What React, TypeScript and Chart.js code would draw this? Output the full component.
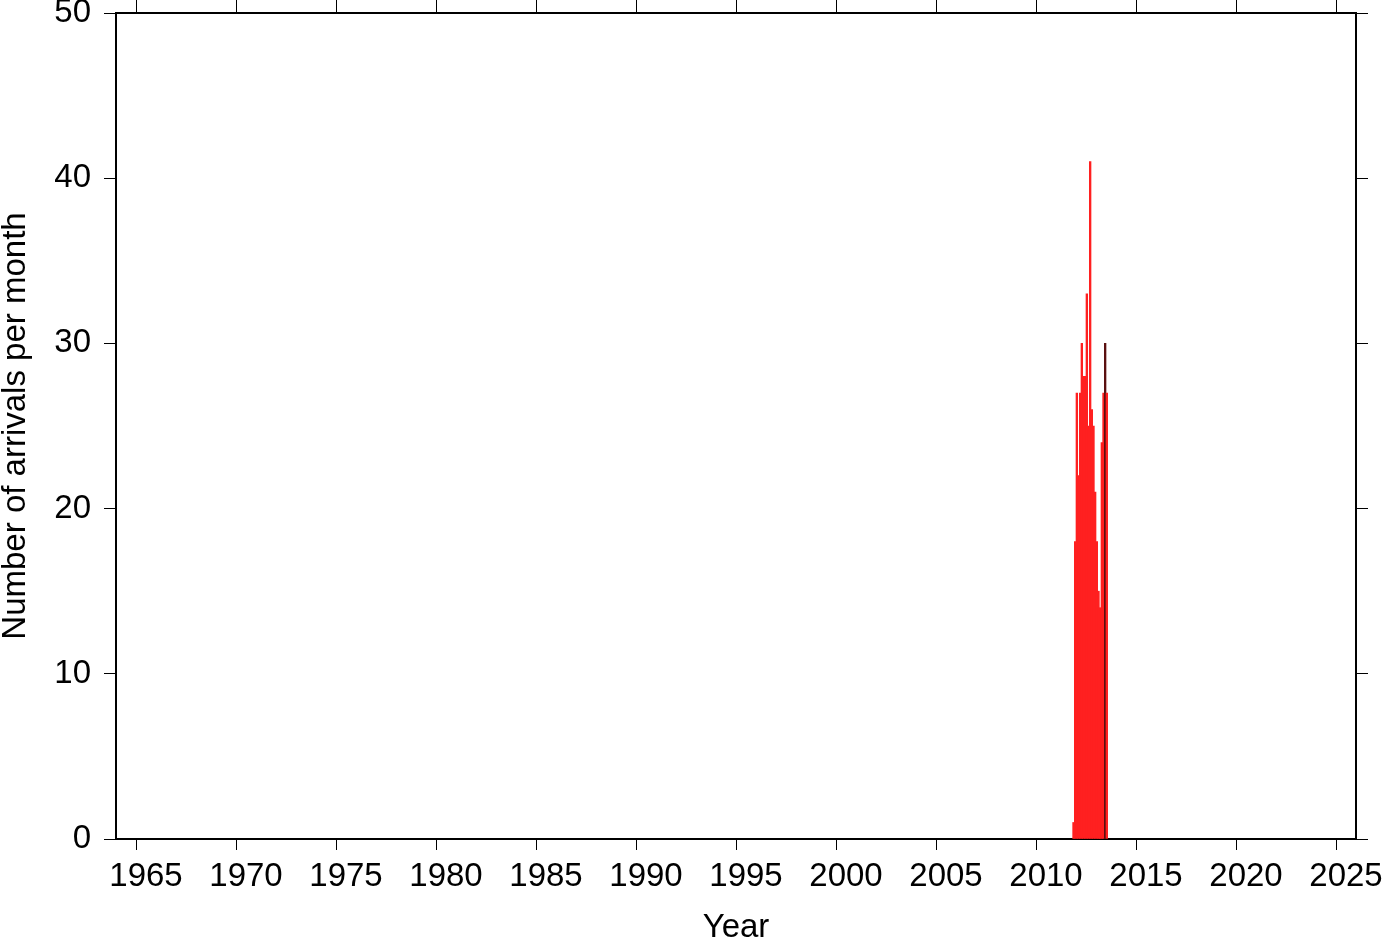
import React, { useEffect, useRef } from 'react';
import { Chart, registerables } from 'chart.js';

Chart.register(...registerables);

// Monthly arrival counts, starting November 2011
const startYear = 2011;
const startMonth = 11;
const monthlyArrivals = [1, 18, 27, 22, 27, 30, 28, 28, 33, 25, 41, 26, 25, 21, 18, 15, 14, 24, 27, 30, 27];
const yearTicks = [1965, 1970, 1975, 1980, 1985, 1990, 1995, 2000, 2005, 2010, 2015, 2020, 2025];
const countTicks = [0, 10, 20, 30, 40, 50];
const xMin = 1964;
const xMax = 2026;
const yMin = 0;
const yMax = 50;

const FONT = '"Liberation Sans", Arial, Helvetica, sans-serif';

export default function App() {
  const ref = useRef<HTMLCanvasElement | null>(null);

  useEffect(() => {
    document.body.style.margin = '0';
    const canvas = ref.current;
    if (!canvas) return;

    const points = monthlyArrivals.map((v, i) => {
      const m = startMonth - 1 + i;
      const year = startYear + Math.floor(m / 12);
      const month = (m % 12) + 1;
      return { x: year + (month - 0.5) / 12, y: v };
    });
    const colors = monthlyArrivals.map((_, i) => (i === 19 ? '#5a1010' : 'rgb(255,32,32)'));

    const font = { family: FONT, size: 33 };
    const titleFont = { family: FONT, size: 33, lineHeight: 0.84 };

    const fitH = (h: number) => (s: any) => {
      s.height = h;
      s.paddingLeft = 0;
      s.paddingRight = 0;
      s.paddingTop = 0;
      s.paddingBottom = 0;
    };
    const fitW = (w: number) => (s: any) => {
      s.width = w;
      s.paddingLeft = 0;
      s.paddingRight = 0;
      s.paddingTop = 0;
      s.paddingBottom = 0;
    };

    const chart = new Chart(canvas, {
      type: 'bar',
      data: {
        datasets: [
          {
            data: points as any,
            backgroundColor: colors,
            borderWidth: 0,
            barPercentage: 1,
            categoryPercentage: 1,
            xAxisID: 'x',
            yAxisID: 'y',
          },
        ],
      },
      options: {
        responsive: false,
        devicePixelRatio: 1,
        animation: false,
        layout: { padding: 0 },
        plugins: {
          legend: { display: false },
          tooltip: { enabled: false },
          title: { display: false },
        },
        scales: {
          x: {
            type: 'linear',
            position: 'bottom',
            min: xMin,
            max: xMax,
            offset: false,
            afterBuildTicks: (s: any) => {
              s.ticks = yearTicks.map((v) => ({ value: v }));
            },
            afterFit: fitH(103),
            ticks: {
              color: '#000',
              font,
              padding: 7,
              labelOffset: 10,
              maxRotation: 0,
              autoSkip: false,
              callback: (v: any) => String(v),
            },
            grid: {
              offset: false,
              drawOnChartArea: false,
              drawTicks: true,
              tickLength: 11,
              color: '#000',
              lineWidth: 1,
            },
            border: { display: true, color: '#000', width: 2 },
            title: {
              display: true,
              text: 'Year',
              color: '#000',
              font: titleFont,
              padding: 0,
            },
          },
          x2: {
            type: 'linear',
            position: 'top',
            min: xMin,
            max: xMax,
            offset: false,
            afterBuildTicks: (s: any) => {
              s.ticks = yearTicks.map((v) => ({ value: v }));
            },
            afterFit: fitH(13),
            ticks: { display: false },
            grid: {
              offset: false,
              drawOnChartArea: false,
              drawTicks: true,
              tickLength: 13,
              color: '#000',
              lineWidth: 1,
            },
            border: { display: true, color: '#000', width: 2 },
          },
          y: {
            type: 'linear',
            position: 'left',
            min: yMin,
            max: yMax,
            afterBuildTicks: (s: any) => {
              s.ticks = countTicks.map((v) => ({ value: v }));
            },
            afterFit: fitW(116),
            ticks: {
              color: '#000',
              font,
              padding: 13,
              callback: (v: any) => String(v),
            },
            grid: {
              drawOnChartArea: false,
              drawTicks: true,
              tickLength: 12,
              color: '#000',
              lineWidth: 1,
            },
            border: { display: true, color: '#000', width: 2 },
            title: {
              display: true,
              text: 'Number of arrivals per month',
              color: '#000',
              font: titleFont,
              padding: { top: 2, bottom: 0 },
            },
          },
          y2: {
            type: 'linear',
            position: 'right',
            min: yMin,
            max: yMax,
            afterBuildTicks: (s: any) => {
              s.ticks = countTicks.map((v) => ({ value: v }));
            },
            afterFit: fitW(26),
            ticks: { display: false },
            grid: {
              drawOnChartArea: false,
              drawTicks: true,
              tickLength: 12,
              color: '#000',
              lineWidth: 1,
            },
            border: { display: true, color: '#000', width: 2 },
          },
        },
      } as any,
    });

    return () => {
      chart.destroy();
    };
  }, []);

  return (
    <canvas
      ref={ref}
      width={1382}
      height={942}
      style={{ display: 'block', position: 'absolute', left: 0, top: 0, width: 1382, height: 942 }}
    />
  );
}
